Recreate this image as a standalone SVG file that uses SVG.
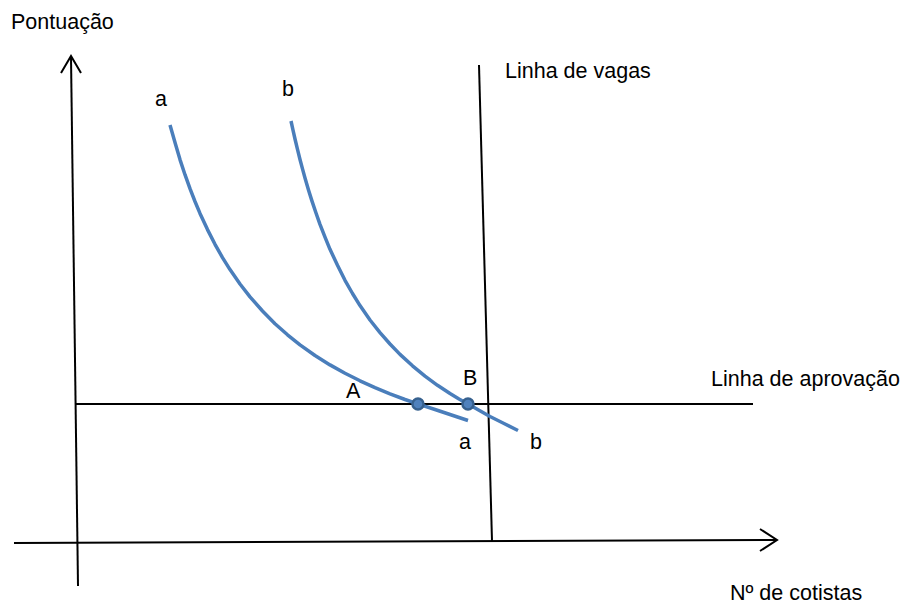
<svg xmlns="http://www.w3.org/2000/svg" width="907" height="605" viewBox="0 0 907 605">
<style>
.ax{stroke:#000;stroke-width:2;fill:none}
.cv{stroke:#4A7EBB;stroke-width:3.5;fill:none;stroke-linejoin:round}
.pt{fill:#4F81BD;stroke:#37618F;stroke-width:2.5}
text{font-family:"Liberation Sans",Arial,sans-serif;font-size:21.5px;fill:#000}
</style>
<rect width="907" height="605" fill="#fff"/>
<g id="axes">
<line class="ax" x1="71" y1="57" x2="78" y2="586"/>
<polyline class="ax" points="61,73 71,56 81,73"/>
<line class="ax" x1="14" y1="543" x2="777" y2="540"/>
<polyline class="ax" points="760,529 777,540 760,551"/>
</g>
<g id="connectors">
<line id="linha-aprovacao" class="ax" x1="76" y1="404" x2="753" y2="404"/>
<line id="linha-vagas" class="ax" x1="479" y1="65" x2="492" y2="541"/>
<polyline id="curve-a" class="cv" points="170,125 175,142.6 180,159.6 185,174.7 190,188.7 195,201.5 200,213.4 207.5,229.6 215,244.3 222.5,257.6 230,269.6 240,284 250,296.9 262.5,311 275,323.7 287.5,334.8 300,344.8 315,355.5 330,364.9 345,373.3 360,380.8 375,387.7 390,393.9 405,399.5 420,404.7 435,409.5 450,414.5 468,420.5"/>
<polyline id="curve-b" class="cv" points="291,121 293,130.1 295,139 297.5,149.4 300,159.5 302.5,168.9 305,178 308.5,190 312,201.1 316,213 320,224.3 325,237.2 330,249.3 337.5,265.3 345,280.3 352.5,293.5 360,305.6 370,320 380,332.7 390,344 400,354.4 412.5,365.8 425,376.1 437.5,385.3 450,393.5 459,398.9 468,404 479,410.3 490,416.5 504,423.5 518,430.5"/>
</g>
<g id="point-A"><circle class="pt" cx="418" cy="404" r="5.5"/><text x="346" y="398">A</text></g>
<g id="point-B"><circle class="pt" cx="468" cy="404" r="5.5"/><text x="463" y="385">B</text></g>
<g id="labels">
<text x="11" y="29">Pontuação</text>
<text x="155" y="106">a</text>
<text x="282" y="96">b</text>
<text x="505" y="78">Linha de vagas</text>
<text x="711" y="386">Linha de aprovação</text>
<text x="459" y="449">a</text>
<text x="530" y="449">b</text>
<text x="730" y="600">Nº de cotistas</text>
</g>
</svg>
